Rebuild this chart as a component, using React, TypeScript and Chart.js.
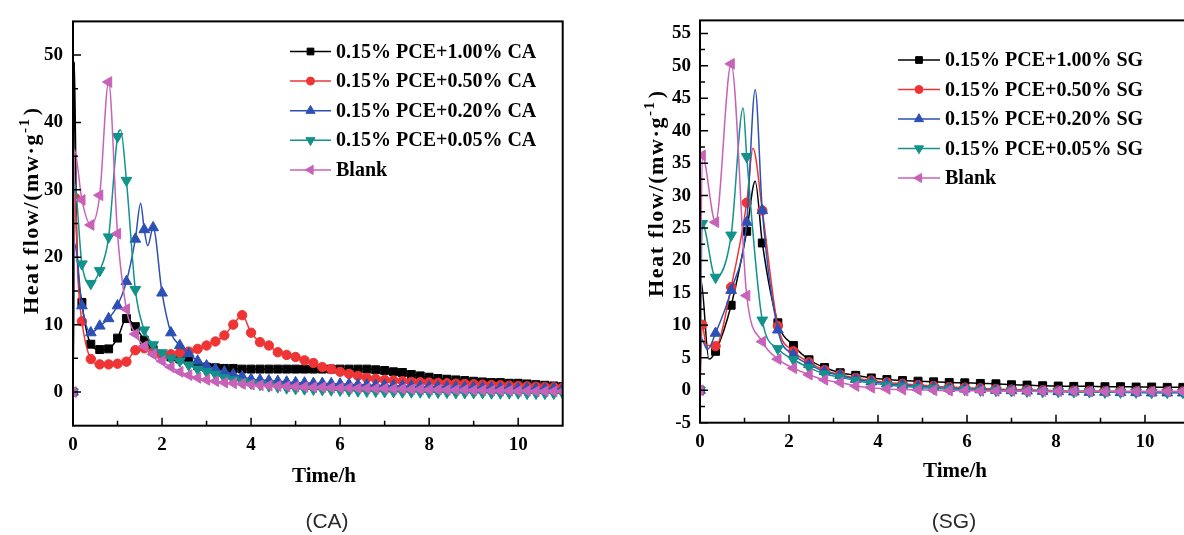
import React, { useEffect, useRef } from "react";
import { Chart, registerables } from "chart.js";

Chart.register(...registerables);

const SERIF = '"Liberation Serif", "Times New Roman", serif';
const SANS = '"Liberation Sans", Arial, sans-serif';

// [time, value, hasMarker]
type Extra = [number, number, number];

// ---------- (CA) panel ----------
const caTimes = [
  0, 0.2, 0.4, 0.6, 0.8, 1.0, 1.2, 1.4, 1.6, 1.8,
  2.0, 2.2, 2.4, 2.6, 2.8, 3.0, 3.2, 3.4, 3.6, 3.8,
  4.0, 4.2, 4.4, 4.6, 4.8, 5.0, 5.2, 5.4, 5.6, 5.8,
  6.0, 6.2, 6.4, 6.6, 6.8, 7.0, 7.2, 7.4, 7.6, 7.8,
  8.0, 8.2, 8.4, 8.6, 8.8, 9.0, 9.2, 9.4, 9.6, 9.8,
  10.0, 10.2, 10.4, 10.6, 10.8, 11.0,
];
const caLabels = [
  "0.15% PCE+1.00% CA",
  "0.15% PCE+0.50% CA",
  "0.15% PCE+0.20% CA",
  "0.15% PCE+0.05% CA",
  "Blank",
];
const caPce100 = [
  0, 13.3, 7.1, 6.3, 6.4, 8.0, 10.9, 9.7, 7.7, 6.3,
  5.6, 5.2, 4.9, 4.6, 3.9, 3.7, 3.6, 3.5, 3.5, 3.4,
  3.4, 3.4, 3.4, 3.4, 3.4, 3.4, 3.4, 3.4, 3.4, 3.4,
  3.4, 3.4, 3.4, 3.4, 3.3, 3.2, 3.0, 2.9, 2.6, 2.4,
  2.2, 2.0, 1.9, 1.8, 1.7, 1.6, 1.5, 1.4, 1.4, 1.3,
  1.3, 1.2, 1.1, 1.0, 0.9, 0.8,
];
const caPce100Extra: Extra[] = [[0.03, 49, 0], [0.08, 24, 0]];
const caPce050 = [
  0, 10.5, 4.9, 4.1, 4.1, 4.2, 4.5, 6.2, 6.5, 5.9,
  5.4, 5.6, 5.8, 6.0, 6.4, 6.9, 7.5, 8.4, 10.0, 11.4,
  8.8, 7.4, 6.9, 5.9, 5.5, 5.2, 4.7, 4.3, 3.7, 3.4,
  3.0, 2.7, 2.4, 2.1, 1.95, 1.8, 1.7, 1.6, 1.5, 1.45,
  1.4, 1.35, 1.3, 1.25, 1.2, 1.15, 1.1, 1.05, 1.0, 0.95,
  0.9, 0.85, 0.8, 0.75, 0.7, 0.65,
];
const caPce050Extra: Extra[] = [[0.05, 28.8, 1], [0.11, 17, 0]];
const caPce020 = [
  0, 12.8, 8.8, 9.8, 10.9, 12.8, 16.4, 22.7, 24.1, 24.4,
  14.7, 8.8, 6.9, 5.7, 4.6, 3.9, 3.4, 3.0, 2.6, 2.3,
  1.9, 1.8, 1.7, 1.6, 1.5, 1.4, 1.35, 1.3, 1.3, 1.25,
  1.2, 1.15, 1.1, 1.05, 1.0, 1.0, 0.95, 0.9, 0.9, 0.85,
  0.8, 0.8, 0.75, 0.75, 0.7, 0.7, 0.65, 0.65, 0.6, 0.6,
  0.55, 0.55, 0.5, 0.5, 0.5, 0.45,
];
const caPce020Extra: Extra[] = [[0.04, 22, 0], [1.52, 28.0, 0], [1.68, 21.7, 0]];
const caPce005 = [
  0, 19.0, 16.1, 18.0, 23.0, 37.9, 31.4, 15.2, 9.2, 7.0,
  5.8, 5.0, 4.6, 4.0, 3.4, 3.0, 2.6, 2.1, 1.8, 1.5,
  1.3, 1.1, 0.9, 0.75, 0.6, 0.5, 0.45, 0.4, 0.35, 0.3,
  0.25, 0.2, 0.15, 0.1, 0.1, 0.05, 0.05, 0, 0, 0,
  -0.05, -0.05, -0.05, -0.1, -0.1, -0.1, -0.1, -0.15, -0.15, -0.15,
  -0.15, -0.2, -0.2, -0.2, -0.2, -0.2,
];
const caPce005Extra: Extra[] = [[0.03, 31, 0], [1.07, 38.9, 0]];
const caBlank = [
  0, 28.5, 24.8, 29.2, 46.0, 23.5, 12.3, 8.6, 6.8, 5.6,
  4.6, 3.7, 3.0, 2.5, 2.1, 1.8, 1.6, 1.4, 1.3, 1.2,
  1.1, 1.0, 0.95, 0.9, 0.85, 0.8, 0.75, 0.7, 0.7, 0.65,
  0.6, 0.6, 0.55, 0.55, 0.5, 0.5, 0.45, 0.45, 0.4, 0.4,
  0.35, 0.35, 0.3, 0.3, 0.3, 0.25, 0.25, 0.2, 0.2, 0.2,
  0.15, 0.15, 0.1, 0.1, 0.1, 0.1,
];
const caBlankExtra: Extra[] = [[0.03, 36, 0]];

const caXTicks = [0, 2, 4, 6, 8, 10];
const caXMinor = [1, 3, 5, 7, 9];
const caYTicks = [0, 10, 20, 30, 40, 50];
const caYMinor = [5, 15, 25, 35, 45];

// ---------- (SG) panel ----------
const sgTimes = [
  0, 0.35, 0.7, 1.05, 1.4, 1.75, 2.1, 2.45, 2.8, 3.15,
  3.5, 3.85, 4.2, 4.55, 4.9, 5.25, 5.6, 5.95, 6.3, 6.65,
  7.0, 7.35, 7.7, 8.05, 8.4, 8.75, 9.1, 9.45, 9.8, 10.15,
  10.5, 10.85,
];
const sgLabels = [
  "0.15% PCE+1.00% SG",
  "0.15% PCE+0.50% SG",
  "0.15% PCE+0.20% SG",
  "0.15% PCE+0.05% SG",
  "Blank",
];
const sgPce100 = [
  0, 6.0, 13.1, 24.5, 22.7, 10.4, 6.9, 4.7, 3.5, 2.7,
  2.3, 1.9, 1.65, 1.5, 1.4, 1.3, 1.2, 1.15, 1.05, 1.0,
  0.85, 0.8, 0.7, 0.65, 0.6, 0.6, 0.55, 0.55, 0.5, 0.5,
  0.45, 0.45,
];
const sgPce100Extra: Extra[] = [[0.02, 17, 0], [0.2, 4.8, 0], [1.24, 32.2, 0]];
const sgPce050 = [
  0, 6.8, 15.9, 28.9, 27.7, 9.9, 6.0, 4.3, 3.1, 2.4,
  1.9, 1.5, 1.2, 1.0, 0.8, 0.65, 0.5, 0.4, 0.3, 0.2,
  0.1, 0.05, 0, -0.05, -0.1, -0.1, -0.15, -0.15, -0.2, -0.2,
  -0.2, -0.2,
];
const sgPce050Extra: Extra[] = [[0.05, 10.1, 1], [0.14, 7.0, 0], [1.19, 37.3, 0]];
const sgPce020 = [
  0, 8.8, 15.4, 25.9, 27.7, 9.3, 5.5, 4.0, 2.9, 2.3,
  1.7, 1.3, 1.0, 0.8, 0.6, 0.45, 0.3, 0.2, 0.1, 0,
  -0.05, -0.1, -0.15, -0.2, -0.25, -0.3, -0.3, -0.35, -0.35, -0.4,
  -0.4, -0.4,
];
const sgPce020Extra: Extra[] = [[0.02, 8, 0], [0.17, 6.3, 0], [1.24, 46.3, 0]];
const sgPce005 = [
  0, 17.4, 23.9, 36.0, 10.8, 6.4, 4.7, 3.5, 2.5, 2.0,
  1.5, 1.1, 0.8, 0.6, 0.4, 0.3, 0.2, 0.1, 0, -0.05,
  -0.1, -0.15, -0.2, -0.2, -0.25, -0.25, -0.3, -0.3, -0.3, -0.35,
  -0.35, -0.35,
];
const sgPce005Extra: Extra[] = [[0.05, 25.7, 1], [0.97, 43.5, 0]];
const sgBlank = [
  0, 25.9, 50.3, 14.6, 7.5, 4.8, 3.4, 2.4, 1.6, 1.2,
  0.65, 0.4, 0.2, 0.1, 0.05, 0, -0.05, -0.05, -0.1, -0.1,
  -0.1, -0.15, -0.15, -0.15, -0.15, -0.2, -0.2, -0.2, -0.2, -0.2,
  -0.2, -0.2,
];
const sgBlankExtra: Extra[] = [[0.05, 36.2, 1]];

const sgXTicks = [0, 2, 4, 6, 8, 10];
const sgXMinor = [1, 3, 5, 7, 9, 11];
const sgYTicks = [-5, 0, 5, 10, 15, 20, 25, 30, 35, 40, 45, 50, 55];
const sgYMinor = [-2.5, 2.5, 7.5, 12.5, 17.5, 22.5, 27.5, 32.5, 37.5, 42.5, 47.5, 52.5];

// ---------- shared styling ----------
const seriesColors = ["#000000", "#ee3434", "#2c50b4", "#12928a", "#c862b8"];
const markerShapes = [
  { style: "rect", radius: 5.6, rotation: 0 },
  { style: "circle", radius: 4.7, rotation: 0 },
  { style: "triangle", radius: 6.2, rotation: 0 },
  { style: "triangle", radius: 6.2, rotation: 180 },
  { style: "triangle", radius: 6.2, rotation: 270 },
];

type Pt = { x: number; y: number; m: boolean };

function buildPoints(times: number[], values: number[], extras: Extra[]): Pt[] {
  const pts: Pt[] = times.map((t, i) => ({ x: t, y: values[i], m: true }));
  extras.forEach(([t, v, mk]) => pts.push({ x: t, y: v, m: mk === 1 }));
  return pts.sort((a, b) => a.x - b.x);
}

function drawMarker(ctx: CanvasRenderingContext2D, idx: number, x: number, y: number, scale: number) {
  const { style, radius, rotation } = markerShapes[idx];
  const r = radius * scale;
  ctx.beginPath();
  if (style === "rect") {
    const s = Math.SQRT1_2 * r;
    ctx.rect(x - s, y - s, 2 * s, 2 * s);
  } else if (style === "circle") {
    ctx.arc(x, y, r, 0, Math.PI * 2);
  } else {
    let rad = (rotation * Math.PI) / 180;
    ctx.moveTo(x + Math.sin(rad) * r, y - Math.cos(rad) * r);
    rad += (2 * Math.PI) / 3;
    ctx.lineTo(x + Math.sin(rad) * r, y - Math.cos(rad) * r);
    rad += (2 * Math.PI) / 3;
    ctx.lineTo(x + Math.sin(rad) * r, y - Math.cos(rad) * r);
    ctx.closePath();
  }
  ctx.fill();
  ctx.stroke();
}

type PanelSpec = {
  pageLeft: number;
  width: number;
  height: number;
  padTop: number;
  padRight: number;
  areaBottom: number;
  yAxisWidth: number;
  xMax: number;
  yMin: number;
  yMax: number;
  xTicks: number[];
  xMinor: number[];
  yTicks: number[];
  yMinor: number[];
  tickSize: number;
  yTickPad: number;
  xTickPad: number;
  yTitle: { x: number; bottom: number; size: number; spacing: number };
  xTitle: { x: number; y: number };
  legend: { x0: number; x1: number; textX: number; y0: number; step: number };
  labels: string[];
  series: { times: number[]; values: number[]; extras: Extra[] }[];
};

const caPanel: PanelSpec = {
  pageLeft: 0,
  width: 600,
  height: 535,
  padTop: 12,
  padRight: 37.3,
  areaBottom: 425.7,
  yAxisWidth: 73,
  xMax: 11,
  yMin: -5,
  yMax: 55,
  xTicks: caXTicks,
  xMinor: caXMinor,
  yTicks: caYTicks,
  yMinor: caYMinor,
  tickSize: 19,
  yTickPad: 10,
  xTickPad: 8,
  yTitle: { x: 38, bottom: 314, size: 22, spacing: 1.6 },
  xTitle: { x: 324, y: 477 },
  legend: { x0: 290, x1: 331, textX: 336, y0: 51.5, step: 29.6 },
  labels: caLabels,
  series: [
    { times: caTimes, values: caPce100, extras: caPce100Extra },
    { times: caTimes, values: caPce050, extras: caPce050Extra },
    { times: caTimes, values: caPce020, extras: caPce020Extra },
    { times: caTimes, values: caPce005, extras: caPce005Extra },
    { times: caTimes, values: caBlank, extras: caBlankExtra },
  ],
};

const sgPanel: PanelSpec = {
  pageLeft: 620,
  width: 600,
  height: 535,
  padTop: 11,
  padRight: 30.5,
  areaBottom: 422.7,
  yAxisWidth: 80,
  xMax: 11,
  yMin: -5,
  yMax: 57,
  xTicks: sgXTicks,
  xMinor: sgXMinor,
  yTicks: sgYTicks,
  yMinor: sgYMinor,
  tickSize: 19,
  yTickPad: 9,
  xTickPad: 8,
  yTitle: { x: 43, bottom: 297, size: 22, spacing: 1.6 },
  xTitle: { x: 335, y: 472 },
  legend: { x0: 278, x1: 320, textX: 325, y0: 60, step: 29.5 },
  labels: sgLabels,
  series: [
    { times: sgTimes, values: sgPce100, extras: sgPce100Extra },
    { times: sgTimes, values: sgPce050, extras: sgPce050Extra },
    { times: sgTimes, values: sgPce020, extras: sgPce020Extra },
    { times: sgTimes, values: sgPce005, extras: sgPce005Extra },
    { times: sgTimes, values: sgBlank, extras: sgBlankExtra },
  ],
};

function makeDecor(spec: PanelSpec) {
  return {
    id: "panelDecor",
    afterDraw(chart: any) {
      const { ctx, chartArea: a } = chart;
      const xs = chart.scales.x;
      const ys = chart.scales.y;
      ctx.save();
      ctx.strokeStyle = "#000";
      ctx.lineWidth = 1.5;
      ctx.beginPath();
      // inward tick marks on the bottom and left axes
      spec.xTicks.forEach((v) => {
        const p = xs.getPixelForValue(v);
        ctx.moveTo(p, a.bottom);
        ctx.lineTo(p, a.bottom - 8);
      });
      spec.xMinor.forEach((v) => {
        const p = xs.getPixelForValue(v);
        ctx.moveTo(p, a.bottom);
        ctx.lineTo(p, a.bottom - 5);
      });
      spec.yTicks.forEach((v) => {
        const p = ys.getPixelForValue(v);
        ctx.moveTo(a.left, p);
        ctx.lineTo(a.left + 8, p);
      });
      spec.yMinor.forEach((v) => {
        const p = ys.getPixelForValue(v);
        ctx.moveTo(a.left, p);
        ctx.lineTo(a.left + 5, p);
      });
      ctx.stroke();

      // frame
      ctx.lineWidth = 2;
      ctx.strokeRect(a.left, a.top, a.right - a.left, a.bottom - a.top);

      // y axis title with superscript
      const t = spec.yTitle;
      ctx.save();
      ctx.translate(t.x, t.bottom);
      ctx.rotate(-Math.PI / 2);
      ctx.fillStyle = "#000";
      ctx.textAlign = "left";
      ctx.textBaseline = "alphabetic";
      (ctx as any).letterSpacing = `${t.spacing}px`;
      ctx.font = `bold ${t.size}px ${SERIF}`;
      const main = "Heat flow/(mw\u00B7g";
      ctx.fillText(main, 0, 0);
      let cx = ctx.measureText(main).width;
      ctx.font = `bold ${Math.round(t.size * 0.7)}px ${SERIF}`;
      ctx.fillText("-1", cx, -t.size * 0.42);
      cx += ctx.measureText("-1").width + 2;
      ctx.font = `bold ${t.size}px ${SERIF}`;
      ctx.fillText(")", cx, 0);
      ctx.restore();

      // x axis title
      ctx.fillStyle = "#000";
      ctx.font = `bold 21px ${SERIF}`;
      ctx.textAlign = "center";
      ctx.textBaseline = "middle";
      ctx.fillText("Time/h", spec.xTitle.x, spec.xTitle.y);

      // legend
      const L = spec.legend;
      spec.labels.forEach((label, i) => {
        const y = L.y0 + i * L.step;
        const c = seriesColors[i];
        ctx.strokeStyle = c;
        ctx.fillStyle = c;
        ctx.lineWidth = 1.5;
        ctx.beginPath();
        ctx.moveTo(L.x0, y);
        ctx.lineTo(L.x1, y);
        ctx.stroke();
        ctx.lineWidth = 1;
        drawMarker(ctx, i, (L.x0 + L.x1) / 2, y, 0.85);
        ctx.fillStyle = "#000";
        ctx.font = `bold 20px ${SERIF}`;
        ctx.textAlign = "left";
        ctx.textBaseline = "middle";
        ctx.fillText(label, L.textX, y + 1);
      });
      ctx.restore();
    },
  };
}

function Panel({ spec }: { spec: PanelSpec }) {
  const ref = useRef<HTMLCanvasElement | null>(null);

  useEffect(() => {
    const canvas = ref.current;
    if (!canvas) return;
    const n = spec.series.length;
    const datasets = spec.series.map((s, i) => {
      const shape = markerShapes[i];
      return {
        label: spec.labels[i],
        data: buildPoints(s.times, s.values, s.extras),
        borderColor: seriesColors[i],
        backgroundColor: seriesColors[i],
        pointBackgroundColor: seriesColors[i],
        pointBorderColor: seriesColors[i],
        borderWidth: 1.5,
        pointBorderWidth: 1,
        pointStyle: shape.style,
        pointRotation: shape.rotation,
        pointRadius: (c: any) => (c.raw && c.raw.m ? shape.radius : 0),
        pointHoverRadius: 0,
        cubicInterpolationMode: "monotone",
        order: n - 1 - i,
      };
    });

    const tickFont = { family: SERIF, size: spec.tickSize, weight: "bold" as const };

    const chart = new Chart(canvas, {
      type: "line",
      data: { datasets } as any,
      options: {
        animation: false,
        responsive: false,
        events: [],
        layout: { padding: { top: spec.padTop, right: spec.padRight, left: 0, bottom: 0 } },
        plugins: { legend: { display: false }, tooltip: { enabled: false } },
        scales: {
          x: {
            type: "linear",
            min: 0,
            max: spec.xMax,
            grid: { display: false, drawTicks: false },
            border: { display: false },
            afterBuildTicks: (s: any) => {
              s.ticks = spec.xTicks.map((v) => ({ value: v }));
            },
            afterFit: (s: any) => {
              s.height = spec.height - spec.areaBottom;
            },
            ticks: {
              autoSkip: false,
              maxRotation: 0,
              padding: spec.xTickPad,
              color: "#000",
              font: tickFont,
              callback: (v: any) => `${v}`,
            },
          },
          y: {
            type: "linear",
            min: spec.yMin,
            max: spec.yMax,
            grid: { display: false, drawTicks: false },
            border: { display: false },
            afterBuildTicks: (s: any) => {
              s.ticks = spec.yTicks.map((v) => ({ value: v }));
            },
            afterFit: (s: any) => {
              s.width = spec.yAxisWidth;
            },
            ticks: {
              autoSkip: false,
              padding: spec.yTickPad,
              color: "#000",
              font: tickFont,
              callback: (v: any) => `${v}`,
            },
          },
        },
      } as any,
      plugins: [makeDecor(spec)],
    });
    return () => chart.destroy();
  }, [spec]);

  return (
    <canvas
      ref={ref}
      width={spec.width}
      height={spec.height}
      style={{
        position: "absolute",
        left: spec.pageLeft,
        top: 0,
        width: spec.width,
        height: spec.height,
      }}
    />
  );
}

const captionStyle: React.CSSProperties = {
  position: "absolute",
  top: 508,
  transform: "translateX(-50%)",
  fontFamily: SANS,
  fontSize: 21,
  color: "#2a2a2a",
  lineHeight: "26px",
  whiteSpace: "nowrap",
};

export default function App() {
  return (
    <div
      style={{
        position: "fixed",
        left: 0,
        top: 0,
        width: 1184,
        height: 535,
        overflow: "hidden",
        background: "#fff",
      }}
    >
      <Panel spec={caPanel} />
      <Panel spec={sgPanel} />
      <div style={{ ...captionStyle, left: 327 }}>(CA)</div>
      <div style={{ ...captionStyle, left: 954 }}>(SG)</div>
    </div>
  );
}
